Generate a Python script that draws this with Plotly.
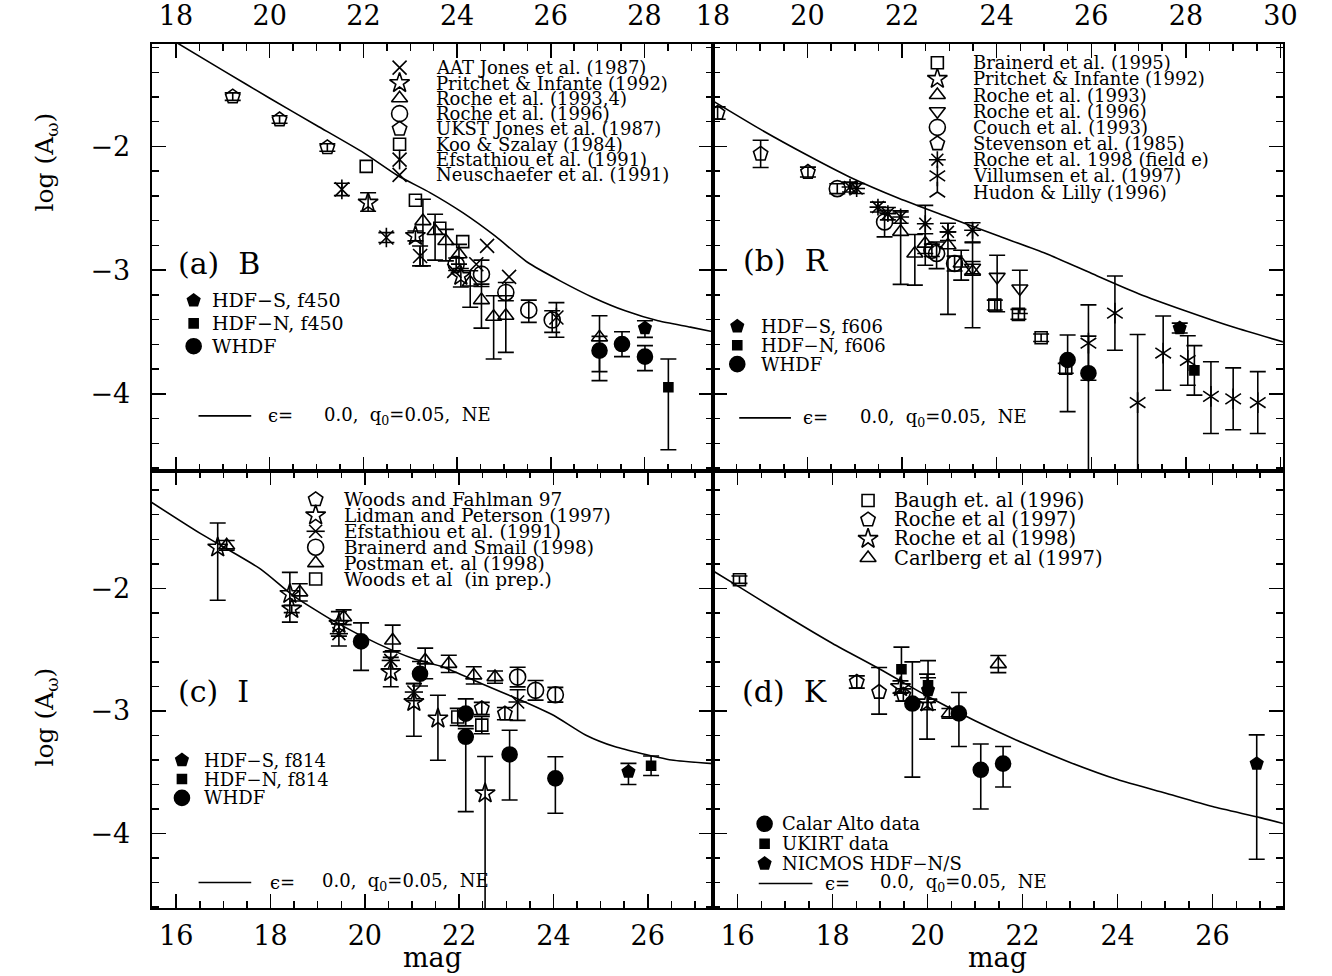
import plotly.graph_objects as go

FONT = "DejaVu Serif"
W, H = 1332, 976

# ---------------- model curves (eps=0.0, q0=0.05, NE) ----------------
a_curve_x = [17.9, 19.0, 20.0, 21.0, 22.0, 22.73, 23.42, 24.12, 24.81, 25.51, 26.2, 26.9, 27.59, 28.29, 28.98, 29.5]
a_curve_y = [-1.135, -1.385, -1.61, -1.83, -2.05, -2.235, -2.373, -2.535, -2.723, -2.938, -3.086, -3.22, -3.328, -3.409, -3.46, -3.50]
b_curve_x = [17.95, 19.0, 20.01, 20.9, 21.94, 22.97, 24.0, 25.04, 26.01, 27.0, 28.0, 29.0, 30.1]
b_curve_y = [-1.62, -1.86, -2.073, -2.248, -2.42, -2.57, -2.718, -2.865, -3.027, -3.19, -3.33, -3.46, -3.585]
c_curve_x = [15.4, 16.5, 17.79, 18.48, 19.38, 20.28, 21.04, 21.66, 22.48, 23.31, 24.0, 24.69, 25.31, 25.86, 26.5, 27.4]
c_curve_y = [-1.28, -1.55, -1.843, -2.059, -2.276, -2.453, -2.575, -2.642, -2.778, -2.913, -3.035, -3.198, -3.293, -3.347, -3.40, -3.43]
d_curve_x = [15.45, 16.0, 17.0, 18.0, 19.0, 20.0, 21.0, 22.0, 23.0, 24.0, 25.0, 26.0, 27.0, 27.5]
d_curve_y = [-1.85, -1.98, -2.22, -2.45, -2.66, -2.88, -3.08, -3.26, -3.42, -3.56, -3.67, -3.78, -3.87, -3.92]

# ---------------- panel (a) B ----------------
a_aat_x = [23.94, 24.41, 24.64, 25.11]
a_aat_y = [-3.006, -2.952, -2.804, -3.054]
a_efs_x = [21.54, 22.49, 23.21, 26.12]
a_efs_y = [-2.347, -2.736, -2.885, -3.382]
a_efs_ep = [0.05, 0.04, 0.08, 0.12]
a_efs_em = [0.05, 0.04, 0.08, 0.16]
a_pri_x = [22.10, 23.11, 24.08]
a_pri_y = [-2.454, -2.723, -3.046]
a_pri_ep = [0.08, 0.04, 0.06]
a_pri_em = [0.07, 0.04, 0.09]
a_tri_x = [23.27, 23.53, 23.76, 24.04, 24.28, 24.52, 24.78, 25.04, 27.04]
a_tri_y = [-2.603, -2.683, -2.764, -2.871, -3.099, -3.242, -3.376, -3.368, -3.543]
a_tri_ep = [0.176, 0.135, 0.094, 0.08, 0.094, 0.129, 0.169, 0.161, 0.175]
a_tri_em = [0.362, 0.236, 0.161, 0.08, 0.20, 0.226, 0.342, 0.296, 0.35]
a_cir_x = [23.98, 24.52, 25.04, 25.53, 26.03]
a_cir_y = [-2.952, -3.032, -3.18, -3.323, -3.403]
a_cir_ep = [0.05, 0.113, 0.081, 0.081, 0.075]
a_cir_em = [0.05, 0.10, 0.067, 0.099, 0.10]
a_pen_x = [19.21, 20.21, 21.23]
a_pen_y = [-1.597, -1.782, -2.008]
a_pen_ep = [0.03, 0.03, 0.03]
a_squ_x = [22.06, 23.11, 23.63, 24.12]
a_squ_y = [-2.161, -2.435, -2.661, -2.769]
a_hdfs_x = [28.01]
a_hdfs_y = [-3.468]
a_hdfs_ep = [0.059]
a_hdfs_em = [0.075]
a_hdfn_x = [28.51]
a_hdfn_y = [-3.946]
a_hdfn_ep = [0.228]
a_hdfn_em = [0.506]
a_whdf_x = [27.04, 27.52, 28.01]
a_whdf_y = [-3.65, -3.597, -3.699]
a_whdf_ep = [0.115, 0.10, 0.089]
a_whdf_em = [0.17, 0.102, 0.113]

# ---------------- panel (b) R ----------------
b_squ_x = [23.96, 24.46, 24.94, 25.46]
b_squ_y = [-3.282, -3.357, -3.546, -3.793]
b_squ_ep = [0.04, 0.04, 0.03, 0.04]
b_tri_x = [21.97, 22.27, 22.49, 22.97, 23.25, 23.49]
b_tri_y = [-2.69, -2.865, -2.785, -2.798, -2.946, -3.013]
b_tri_ep = [0.16, 0.153, 0.08, 0.108, 0.107, 0.241]
b_tri_em = [0.425, 0.256, 0.08, 0.559, 0.134, 0.452]
b_tdn_x = [23.49, 24.01, 24.49]
b_tdn_y = [-2.98, -3.054, -3.148]
b_tdn_ep = [0.05, 0.175, 0.148]
b_tdn_em = [0.05, 0.282, 0.202]
b_cir_x = [20.63, 21.63, 22.63, 22.73, 23.11]
b_cir_y = [-2.341, -2.61, -2.839, -2.865, -2.946]
b_cir_ep = [0.04, 0.094, 0.05, 0.093, 0.06]
b_cir_em = [0.04, 0.121, 0.05, 0.122, 0.06]
b_pen_x = [18.1, 19.01, 20.01]
b_pen_y = [-1.73, -2.06, -2.207]
b_pen_ep = [0.05, 0.11, 0.04]
b_ast_x = [20.9, 21.04, 21.49, 21.70, 21.97, 22.49, 22.97, 23.49]
b_ast_y = [-2.328, -2.34, -2.49, -2.543, -2.57, -2.624, -2.69, -2.677]
b_ast_ep = [0.04, 0.04, 0.04, 0.05, 0.05, 0.148, 0.07, 0.06]
b_ast_em = [0.04, 0.04, 0.04, 0.05, 0.05, 0.336, 0.07, 0.10]
b_vil_x = [25.94, 26.5, 26.98, 27.52, 28.04, 28.53, 29.0, 29.52]
b_vil_y = [-3.59, -3.347, -4.07, -3.67, -3.73, -4.02, -4.04, -4.07]
b_vil_ep = [0.31, 0.30, 0.55, 0.30, 0.20, 0.28, 0.25, 0.25]
b_vil_em = [0.30, 0.30, 1.00, 0.30, 0.20, 0.30, 0.25, 0.25]
b_hdfs_x = [27.87]
b_hdfs_y = [-3.468]
b_hdfs_ep = [0.04]
b_hdfn_x = [28.18]
b_hdfn_y = [-3.81]
b_hdfn_ep = [0.2]
b_whdf_x = [25.50, 25.94]
b_whdf_y = [-3.726, -3.833]
b_whdf_ep = [0.202, 0.30]
b_whdf_em = [0.417, 1.20]

# ---------------- panel (c) I ----------------
c_pen_x = [22.48, 22.97]
c_pen_y = [-2.98, -3.022]
c_pen_ep = [0.05, 0.05]
c_sta_x = [16.88, 18.41, 18.45, 19.45, 20.55, 21.04, 21.55, 22.55]
c_sta_y = [-1.667, -2.046, -2.168, -2.29, -2.683, -2.927, -3.062, -3.672]
c_sta_ep = [0.20, 0.176, 0.03, 0.10, 0.12, 0.15, 0.19, 0.30]
c_sta_em = [0.43, 0.23, 0.03, 0.10, 0.12, 0.28, 0.34, 2.0]
c_efs_x = [19.45, 20.55, 21.04, 23.24]
c_efs_y = [-2.37, -2.588, -2.846, -2.927]
c_efs_ep = [0.08, 0.07, 0.07, 0.10]
c_efs_em = [0.10, 0.07, 0.07, 0.15]
c_cir_x = [23.24, 23.62, 24.04]
c_cir_y = [-2.724, -2.832, -2.868]
c_cir_ep = [0.08, 0.08, 0.06]
c_tri_x = [17.07, 18.62, 19.55, 20.59, 21.28, 21.78, 22.31, 22.76]
c_tri_y = [-1.65, -2.033, -2.236, -2.425, -2.588, -2.616, -2.71, -2.724]
c_tri_ep = [0.04, 0.07, 0.06, 0.125, 0.10, 0.07, 0.07, 0.05]
c_tri_em = [0.04, 0.07, 0.06, 0.085, 0.15, 0.07, 0.07, 0.05]
c_squ_x = [21.97, 22.48]
c_squ_y = [-3.049, -3.116]
c_squ_ep = [0.07, 0.07]
c_hdfs_x = [25.59]
c_hdfs_y = [-3.496]
c_hdfs_ep = [0.068]
c_hdfs_em = [0.104]
c_hdfn_x = [26.07]
c_hdfn_y = [-3.447]
c_hdfn_ep = [0.08]
c_whdf_x = [19.92, 21.17, 22.14, 22.14, 23.07, 24.04]
c_whdf_y = [-2.433, -2.697, -3.022, -3.211, -3.355, -3.55]
c_whdf_ep = [0.151, 0.10, 0.12, 0.067, 0.198, 0.176]
c_whdf_em = [0.236, 0.10, 0.10, 0.61, 0.371, 0.285]

# ---------------- panel (d) K ----------------
d_squ_x = [16.04]
d_squ_y = [-1.93]
d_squ_ep = [0.03]
d_pen_x = [18.51, 18.98, 19.49]
d_pen_y = [-2.764, -2.846, -2.87]
d_pen_ep = [0.05, 0.20, 0.05]
d_pen_em = [0.05, 0.18, 0.05]
d_sta_x = [19.43, 19.99]
d_sta_y = [-2.805, -2.93]
d_sta_ep = [0.05, 0.23]
d_sta_em = [0.05, 0.30]
d_tri_x = [20.46, 21.49]
d_tri_y = [-3.02, -2.618]
d_tri_ep = [0.04, 0.07]
d_cal_x = [19.68, 20.66, 21.12, 21.59]
d_cal_y = [-2.94, -3.02, -3.48, -3.43]
d_cal_ep = [0.34, 0.17, 0.21, 0.14]
d_cal_em = [0.60, 0.27, 0.32, 0.19]
d_ukirt_x = [19.45, 20.01]
d_ukirt_y = [-2.66, -2.79]
d_ukirt_ep = [0.18, 0.20]
d_ukirt_em = [0.19, 0.20]
d_nic_x = [20.01, 26.93]
d_nic_y = [-2.83, -3.43]
d_nic_ep = [0.10, 0.235]
d_nic_em = [0.10, 0.78]

# ---------------- legend texts ----------------
a_leg_labels = ["AAT Jones et al. (1987)", "Pritchet & Infante (1992)", "Roche et al. (1993,4)",
                "Roche et al. (1996)", "UKST Jones et al. (1987)", "Koo & Szalay (1984)",
                "Efstathiou et al. (1991)", "Neuschaefer et al. (1991)"]
b_leg_labels = ["Brainerd et al. (1995)", "Pritchet & Infante (1992)", "Roche et al. (1993)",
                "Roche et al. (1996)", "Couch et al. (1993)", "Stevenson et al. (1985)",
                "Roche et al. 1998 (field e)", "Villumsen et al. (1997)", "Hudon & Lilly (1996)"]
c_leg_labels = ["Woods and Fahlman 97", "Lidman and Peterson (1997)", "Efstathiou et al. (1991)",
                "Brainerd and Smail (1998)", "Postman et. al (1998)", "Woods et al \u00a0(in prep.)"]
d_leg_labels = ["Baugh et. al (1996)", "Roche et al (1997)", "Roche et al (1998)", "Carlberg et al (1997)"]
a_fill_labels = ["HDF\u2212S, f450", "HDF\u2212N, f450", "WHDF"]
b_fill_labels = ["HDF\u2212S, f606", "HDF\u2212N, f606", "WHDF"]
c_fill_labels = ["HDF\u2212S, f814", "HDF\u2212N, f814", "WHDF"]
d_fill_labels = ["Calar Alto data", "UKIRT data", "NICMOS HDF\u2212N/S"]
panel_labels = ["(a)\u00a0\u00a0B", "(b)\u00a0\u00a0R", "(c)\u00a0\u00a0I", "(d)\u00a0\u00a0K"]
model_label = "0.0, \u00a0q<sub>0</sub>=0.05, \u00a0NE"

# ---------------- layout geometry (pixels) ----------------
XL, XM, XR = 138, 713, 1297
YT, YM, YB = 39, 468, 908
RANGES = {"a": ([17.48, 29.46], [-4.62, -1.17]),
          "b": ([18.0, 30.05], [-4.62, -1.17]),
          "c": ([15.48, 27.38], [-4.61, -1.04]),
          "d": ([15.48, 27.48], [-4.61, -1.04])}
AX = {"a": ("x", "y"), "b": ("x2", "y2"), "c": ("x3", "y3"), "d": ("x4", "y4")}

fig = go.Figure()

OPEN = {"x": ["x-thin-open"], "star": ["star-open"], "tri": ["triangle-up-open"],
        "tdn": ["triangle-down-open"], "cir": ["circle-open"], "pen": ["pentagon-open"],
        "squ": ["square-open"], "ast6": ["x-thin-open", "line-ns-open"],
        "ast8": ["asterisk-open"], "vil": ["y-up-open", "y-down-open"],
        "hud": ["y-up-open"], "efc": ["x-thin-open", "line-ew-open"],
        "fpen": ["pentagon"], "fsqu": ["square"], "fcir": ["circle"]}
SIZE = {"x": 14, "star": 15, "tri": 14, "tdn": 14, "cir": 16, "pen": 15, "squ": 12,
        "ast6": 14, "ast8": 14, "vil": 13, "hud": 13, "efc": 13,
        "fpen": 13, "fsqu": 9, "fcir": 15}


def pts(panel, x, y, kind, ep=None, em=None, cap=8):
    xa, ya = AX[panel]
    for i, s in enumerate(OPEN[kind]):
        err = None
        if i == 0 and ep is not None:
            err = dict(type="data", array=ep, arrayminus=(em if em is not None else ep),
                       symmetric=False, color="black", thickness=1.6, width=cap)
        fig.add_trace(go.Scatter(
            x=x, y=y, mode="markers", xaxis=xa, yaxis=ya,
            marker=dict(symbol=s, size=SIZE[kind], color="black",
                        line=dict(color="black", width=1.6)),
            error_y=err if err else dict(visible=False),
            showlegend=False, hoverinfo="skip"))


def curve(panel, x, y):
    xa, ya = AX[panel]
    fig.add_trace(go.Scatter(x=x, y=y, mode="lines", xaxis=xa, yaxis=ya,
                             line=dict(color="black", width=1.6, shape="spline", smoothing=0.6),
                             showlegend=False, hoverinfo="skip"))


# curves
curve("a", a_curve_x, a_curve_y)
curve("b", b_curve_x, b_curve_y)
curve("c", c_curve_x, c_curve_y)
curve("d", d_curve_x, d_curve_y)

# panel a
pts("a", a_pen_x, a_pen_y, "pen", a_pen_ep)
pts("a", a_squ_x, a_squ_y, "squ")
pts("a", a_aat_x, a_aat_y, "x")
pts("a", a_efs_x, a_efs_y, "ast6", a_efs_ep, a_efs_em)
pts("a", a_pri_x, a_pri_y, "star", a_pri_ep, a_pri_em)
pts("a", a_tri_x, a_tri_y, "tri", a_tri_ep, a_tri_em)
pts("a", a_cir_x, a_cir_y, "cir", a_cir_ep, a_cir_em)
pts("a", a_hdfs_x, a_hdfs_y, "fpen", a_hdfs_ep, a_hdfs_em)
pts("a", a_hdfn_x, a_hdfn_y, "fsqu", a_hdfn_ep, a_hdfn_em)
pts("a", a_whdf_x, a_whdf_y, "fcir", a_whdf_ep, a_whdf_em)

# panel b
pts("b", b_pen_x, b_pen_y, "pen", b_pen_ep)
pts("b", b_cir_x, b_cir_y, "cir", b_cir_ep, b_cir_em)
pts("b", b_ast_x, b_ast_y, "ast8", b_ast_ep, b_ast_em)
pts("b", b_tri_x, b_tri_y, "tri", b_tri_ep, b_tri_em)
pts("b", b_tdn_x, b_tdn_y, "tdn", b_tdn_ep, b_tdn_em)
pts("b", b_squ_x, b_squ_y, "squ", b_squ_ep)
pts("b", b_vil_x, b_vil_y, "vil", b_vil_ep, b_vil_em)
pts("b", b_hdfs_x, b_hdfs_y, "fpen", b_hdfs_ep)
pts("b", b_hdfn_x, b_hdfn_y, "fsqu", b_hdfn_ep)
pts("b", b_whdf_x, b_whdf_y, "fcir", b_whdf_ep, b_whdf_em)

# panel c
pts("c", c_tri_x, c_tri_y, "tri", c_tri_ep, c_tri_em)
pts("c", c_sta_x, c_sta_y, "star", c_sta_ep, c_sta_em)
pts("c", c_efs_x, c_efs_y, "efc", c_efs_ep, c_efs_em)
pts("c", c_cir_x, c_cir_y, "cir", c_cir_ep)
pts("c", c_pen_x, c_pen_y, "pen", c_pen_ep)
pts("c", c_squ_x, c_squ_y, "squ", c_squ_ep)
pts("c", c_hdfs_x, c_hdfs_y, "fpen", c_hdfs_ep, c_hdfs_em)
pts("c", c_hdfn_x, c_hdfn_y, "fsqu", c_hdfn_ep)
pts("c", c_whdf_x, c_whdf_y, "fcir", c_whdf_ep, c_whdf_em)

# panel d
pts("d", d_squ_x, d_squ_y, "squ", d_squ_ep)
pts("d", d_pen_x, d_pen_y, "pen", d_pen_ep, d_pen_em)
pts("d", d_sta_x, d_sta_y, "star", d_sta_ep, d_sta_em)
pts("d", d_tri_x, d_tri_y, "tri", d_tri_ep)
pts("d", d_cal_x, d_cal_y, "fcir", d_cal_ep, d_cal_em)
pts("d", d_ukirt_x, d_ukirt_y, "fsqu", d_ukirt_ep, d_ukirt_em)
pts("d", d_nic_x, d_nic_y, "fpen", d_nic_ep, d_nic_em)

# ---------------- legends on a full-page pixel overlay (x5/y5) ----------------
ann = []


def key(px, py, kind):
    for s in OPEN[kind]:
        fig.add_trace(go.Scatter(x=[px], y=[py], mode="markers", xaxis="x5", yaxis="y5",
                                 marker=dict(symbol=s, size=SIZE[kind], color="black",
                                             line=dict(color="black", width=1.6)),
                                 showlegend=False, hoverinfo="skip"))


def label(px, py, text, size=17, anchor="left"):
    ann.append(dict(x=px, y=py, xref="x5", yref="y5", text=text, showarrow=False,
                    xanchor=anchor, yanchor="middle",
                    font=dict(family=FONT, size=size, color="black")))


def block(sym_x, txt_x, y0, dy, kinds, labels, size=17):
    for i, (k, t) in enumerate(zip(kinds, labels)):
        key(sym_x, y0 + i * dy, k)
        label(txt_x, y0 + i * dy, t, size)


block(392, 427, 63, 15.4, ["x", "star", "tri", "cir", "pen", "squ", "ast6", "x"], a_leg_labels, 18)
block(943, 977, 58, 16.25, ["squ", "star", "tri", "tdn", "cir", "pen", "ast8", "vil", "hud"], b_leg_labels, 18)
block(306, 333, 497, 16, ["pen", "star", "efc", "cir", "tri", "squ"], c_leg_labels, 18.5)
block(872, 897, 498, 19.3, ["squ", "pen", "star", "tri"], d_leg_labels, 19.5)

block(181, 198, 297, 23, ["fpen", "fsqu", "fcir"], a_fill_labels, 19)
block(738, 760, 323, 19, ["fpen", "fsqu", "fcir"], b_fill_labels, 18)
block(169, 190, 759, 19, ["fpen", "fsqu", "fcir"], c_fill_labels, 18)
block(766, 782, 823, 20, ["fcir", "fsqu", "fpen"], d_fill_labels, 18)

# model-curve legend lines
for (x0, x1, yy, ex, tx) in [(186, 240, 413, 255, 313), (740, 793, 415, 803, 862),
                             (186, 240, 882, 257, 310), (760, 815, 883, 826, 882)]:
    fig.add_trace(go.Scatter(x=[x0, x1], y=[yy, yy], mode="lines", xaxis="x5", yaxis="y5",
                             line=dict(color="black", width=1.6), showlegend=False, hoverinfo="skip"))
    label(ex, yy, "\u03f5=", 18)
    label(tx, yy, model_label, 18)

# panel tags
for (px, py), t in zip([(163, 260), (742, 257), (163, 690), (741, 690)], panel_labels):
    label(px, py, t, 30)

# axis titles
for cx in [(XL + XM) / 2, (XM + XR) / 2]:
    ann.append(dict(x=cx, y=975, xref="x5", yref="y5", text="mag", showarrow=False,
                    xanchor="center", yanchor="bottom",
                    font=dict(family=FONT, size=27, color="black")))
for cy in [158, 716]:
    ann.append(dict(x=30, y=cy, xref="x5", yref="y5", text="log (A<sub>\u03c9</sub>)",
                    showarrow=False, textangle=-90, xanchor="center", yanchor="middle",
                    font=dict(family=FONT, size=25, color="black")))


# ---------------- axes ----------------
def fx(v):
    return v / W


def fy(v):
    return 1 - v / H


TICKFONT = dict(family=FONT, size=27, color="black")


def xaxis(panel, dom, side, show, anchor):
    return dict(domain=dom, range=RANGES[panel][0], anchor=anchor, side=side,
                showline=True, linecolor="black", linewidth=2, mirror="ticks",
                ticks="inside", ticklen=14, tickwidth=1.5, tickcolor="black",
                dtick=2, tick0=0, showgrid=False, zeroline=False,
                minor=dict(ticks="inside", ticklen=7, tickwidth=1.5, tickcolor="black",
                           dtick=0.5, tick0=0, showgrid=False),
                showticklabels=show, tickfont=TICKFONT,
                ticklabelstandoff=(6 if side == "top" else 2))


def yaxis(panel, dom, show, anchor):
    return dict(domain=dom, range=RANGES[panel][1], anchor=anchor,
                showline=True, linecolor="black", linewidth=2, mirror="ticks",
                ticks="inside", ticklen=14, tickwidth=1.5, tickcolor="black",
                dtick=1, tick0=0, showgrid=False, zeroline=False,
                minor=dict(ticks="inside", ticklen=7, tickwidth=1.5, tickcolor="black",
                           dtick=0.2, tick0=0, showgrid=False),
                showticklabels=show, tickfont=TICKFONT, ticklabelstandoff=14)


XD_L = [fx(XL), fx(XM)]
XD_R = [fx(XM), fx(XR)]
YD_T = [fy(YM), fy(YT)]
YD_B = [fy(YB), fy(YM)]

fig.update_layout(
    width=W, height=H, autosize=False,
    margin=dict(l=0, r=0, t=0, b=0, pad=0),
    paper_bgcolor="white", plot_bgcolor="rgba(0,0,0,0)",
    showlegend=False, hovermode=False,
    font=dict(family=FONT, color="black"),
    xaxis=xaxis("a", XD_L, "top", True, "y"),
    yaxis=yaxis("a", YD_T, True, "x"),
    xaxis2=xaxis("b", XD_R, "top", True, "y2"),
    yaxis2=yaxis("b", YD_T, False, "x2"),
    xaxis3=xaxis("c", XD_L, "bottom", True, "y3"),
    yaxis3=yaxis("c", YD_B, True, "x3"),
    xaxis4=xaxis("d", XD_R, "bottom", True, "y4"),
    yaxis4=yaxis("d", YD_B, False, "x4"),
    xaxis5=dict(domain=[0, 1], range=[0, W], anchor="y5", visible=False, fixedrange=True),
    yaxis5=dict(domain=[0, 1], range=[H, 0], anchor="x5", visible=False, fixedrange=True),
    annotations=ann,
)

fig.write_html("out.html", config={"displayModeBar": False, "staticPlot": True},
               post_script="document.body.style.margin='0';document.body.style.padding='0';")
